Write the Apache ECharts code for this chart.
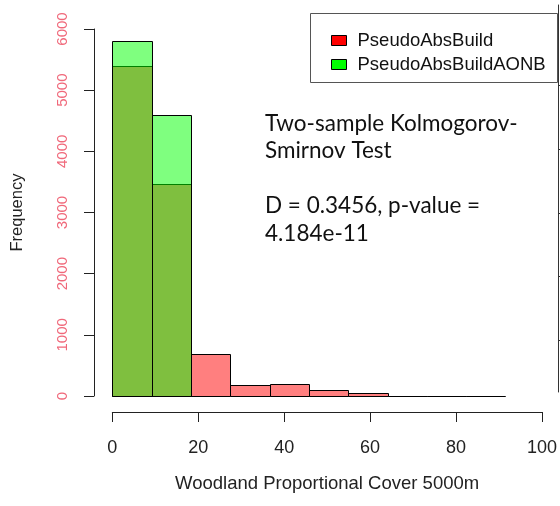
<!DOCTYPE html>
<html>
<head>
<meta charset="utf-8">
<script src="https://cdn.jsdelivr.net/npm/echarts@6/dist/echarts.min.js"></script>
<style>html,body{margin:0;padding:0;background:#fff}#c{width:560px;height:506px}</style>
</head>
<body>
<div id="c"></div>
<script>
// ---- data ----
const binBreaks = [0, 9.15, 18.3, 27.45, 36.6, 45.75, 54.9, 64.05, 73.2, 82.35, 91.5];
const redCounts = [5400, 3470, 685, 175, 200, 98, 44, 3, 1, 1];
const greenCounts = [5800, 4590];
const xTicks = [0, 20, 40, 60, 80, 100];
const yTicks = [0, 1000, 2000, 3000, 4000, 5000, 6000];
const seriesNames = ['PseudoAbsBuild', 'PseudoAbsBuildAONB'];
const annotationLines = ['Two-sample Kolmogorov-', 'Smirnov Test', 'D = 0.3456, p-value =', '4.184e-11'];

function toBins(counts) {
  return counts.map((c, i) => [binBreaks[i], binBreaks[i + 1], c]);
}

function makeRender(fill) {
  return function (params, api) {
    const x0 = api.value(0), x1 = api.value(1), v = api.value(2);
    const pTop = api.coord([x0, v]);
    const pBot = api.coord([x1, 0]);
    const xa = Math.round(pTop[0]) + 0.5, xb = Math.round(pBot[0]) + 0.5;
    const ya = Math.round(pTop[1]) + 0.5, yb = Math.round(pBot[1]) + 0.5;
    return {
      type: 'rect',
      shape: { x: xa, y: ya, width: xb - xa, height: yb - ya },
      style: { fill: fill, stroke: '#000', lineWidth: 1 }
    };
  };
}

const chart = echarts.init(document.getElementById('c'), null, { renderer: 'canvas' });
const axisFont = 'Liberation Sans, Arial, sans-serif';
const annoFont = 'Lato, "Open Sans", sans-serif';
const annoY = [123.5, 150.5, 205.5, 233.5];

chart.setOption({
  animation: false,
  backgroundColor: '#fff',
  grid: [
    { left: 112.3, right: 17.7, top: 29, bottom: 110 },
    { left: 558, width: 1, top: 5, bottom: 114 }
  ],
  xAxis: [{
    type: 'value', gridIndex: 0, min: 0, max: 100, interval: 20, offset: 16,
    axisLine: { show: true, onZero: false, lineStyle: { color: '#222', width: 1 } },
    axisTick: { show: true, length: 10, lineStyle: { color: '#222' } },
    axisLabel: { color: '#222', fontSize: 18, fontFamily: axisFont, margin: 27,
      customValues: xTicks },
    splitLine: { show: false },
    name: 'Woodland Proportional Cover 5000m', nameLocation: 'middle', nameGap: 62,
    nameTextStyle: { color: '#222', fontSize: 18.5, fontFamily: axisFont }
  }, {
    type: 'value', gridIndex: 1, show: false, min: 0, max: 1
  }],
  yAxis: [{
    type: 'value', gridIndex: 0, min: 0, max: 6000, interval: 1000, offset: 18.3,
    axisLine: { show: true, onZero: false, lineStyle: { color: '#222', width: 1 } },
    axisTick: { show: true, length: 10, lineStyle: { color: '#222' } },
    axisLabel: { color: '#f0687a', fontSize: 15, fontFamily: axisFont, rotate: 90, margin: 24,
      customValues: yTicks, formatter: v => String(v) },
    splitLine: { show: false },
    name: 'Frequency', nameLocation: 'middle', nameGap: 68, nameRotate: 90,
    nameTextStyle: { color: '#222', fontSize: 16.5, fontFamily: axisFont }
  }, {
    type: 'value', gridIndex: 1, position: 'left', min: 0.18, max: 6.27,
    axisLine: { show: true, onZero: false, lineStyle: { color: '#333', width: 1 } },
    axisTick: { show: true, inside: true, length: 6, customValues: [1, 2, 3, 4, 5], lineStyle: { color: '#333' } },
    axisLabel: { show: false },
    splitLine: { show: false }
  }],
  legend: {
    orient: 'vertical', left: 326, top: 26, itemGap: 5,
    itemWidth: 15, itemHeight: 10, icon: 'rect',
    textStyle: { color: '#111', fontSize: 18.5, fontFamily: axisFont, lineHeight: 18, padding: [0, 0, 0, 6] },
    data: [
      { name: seriesNames[0], itemStyle: { color: '#ff0000', borderColor: '#000', borderWidth: 1 } },
      { name: seriesNames[1], itemStyle: { color: '#00ff00', borderColor: '#000', borderWidth: 1 } }
    ],
    z: 10
  },
  graphic: [
    { type: 'rect', z: 5, shape: { x: 310.5, y: 13.5, width: 247, height: 69 },
      style: { fill: '#fff', stroke: '#555', lineWidth: 1 } }
  ].concat(annotationLines.map((t, i) => ({
    type: 'text', z: 6, x: 265, y: annoY[i],
    style: { text: t, font: '22.5px ' + annoFont, fill: '#111', verticalAlign: 'middle' }
  }))),
  series: [{
    name: seriesNames[0], type: 'custom', xAxisIndex: 0, yAxisIndex: 0,
    itemStyle: { color: 'rgba(255,0,0,0.5)', borderColor: '#000', borderWidth: 1 },
    renderItem: makeRender('rgba(255,0,0,0.5)'),
    encode: { x: [0, 1], y: 2 },
    data: toBins(redCounts)
  }, {
    name: seriesNames[1], type: 'custom', xAxisIndex: 0, yAxisIndex: 0,
    itemStyle: { color: 'rgba(0,255,0,0.5)', borderColor: '#000', borderWidth: 1 },
    renderItem: makeRender('rgba(0,255,0,0.5)'),
    encode: { x: [0, 1], y: 2 },
    data: toBins(greenCounts)
  }]
});
</script>
</body>
</html>
